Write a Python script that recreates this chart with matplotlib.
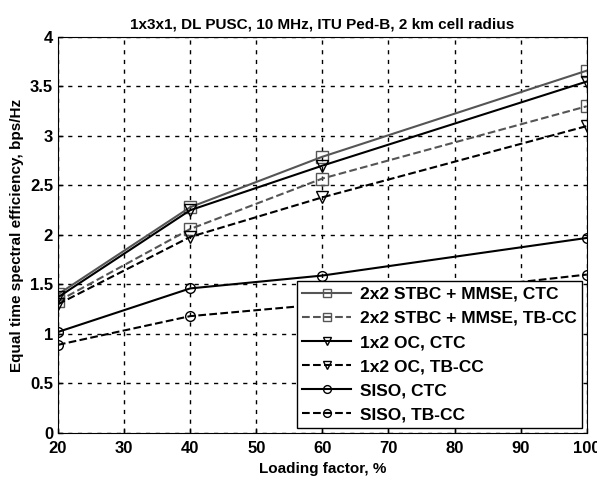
import matplotlib
matplotlib.use('Agg')
import matplotlib.pyplot as plt

plt.rcParams['font.family'] = 'Liberation Sans'
plt.rcParams['font.weight'] = 'bold'

load = [20, 40, 60, 100]
stbc_ctc = [1.40, 2.28, 2.79, 3.66]
stbc_tbcc = [1.33, 2.06, 2.57, 3.30]
oc_ctc = [1.37, 2.25, 2.70, 3.55]
oc_tbcc = [1.30, 1.98, 2.38, 3.10]
siso_ctc = [1.02, 1.46, 1.59, 1.97]
siso_tbcc = [0.89, 1.18, 1.30, 1.60]

fig = plt.figure(figsize=(5.97, 4.8), dpi=100)
ax = fig.add_axes([0.097, 0.098, 0.886, 0.825])

gray = '#555555'
ax.plot(load, stbc_ctc, '-s', color=gray, mfc='none', ms=8, lw=1.5, label='2x2 STBC + MMSE, CTC')
ax.plot(load, stbc_tbcc, '--s', color=gray, mfc='none', ms=8, lw=1.5, label='2x2 STBC + MMSE, TB-CC')
ax.plot(load, oc_ctc, '-v', color='k', mfc='none', ms=8, lw=1.5, label='1x2 OC, CTC')
ax.plot(load, oc_tbcc, '--v', color='k', mfc='none', ms=8, lw=1.5, label='1x2 OC, TB-CC')
ax.plot(load, siso_ctc, '-o', color='k', mfc='none', ms=7, lw=1.5, label='SISO, CTC')
ax.plot(load, siso_tbcc, '--o', color='k', mfc='none', ms=7, lw=1.5, label='SISO, TB-CC')

ax.set_xlim(20, 100)
ax.set_ylim(0, 4)
ax.set_xticks(range(20, 101, 10))
ax.set_yticks([0, 0.5, 1, 1.5, 2, 2.5, 3, 3.5, 4])
ax.set_yticklabels(['0', '0.5', '1', '1.5', '2', '2.5', '3', '3.5', '4'])
ax.grid(True, color='k', linestyle=(0, (3, 4)), lw=1)
ax.tick_params(direction='in', labelsize=12, width=1)
ax.tick_params(axis='x', pad=6)
ax.set_xlabel('Loading factor, %', fontsize=11, fontweight='bold', labelpad=4)
ax.set_ylabel('Equal time spectral efficiency, bps/Hz', fontsize=11, fontweight='bold')
ax.set_title('1x3x1, DL PUSC, 10 MHz, ITU Ped-B, 2 km cell radius', fontsize=11, fontweight='bold')

leg = ax.legend(loc='lower right', fontsize=12.5, fancybox=False, edgecolor='k',
                framealpha=1, handlelength=2.8, borderaxespad=0.3, labelspacing=0.52,
                markerscale=0.8, handletextpad=0.5, borderpad=0.3)
leg.get_frame().set_linewidth(1)

fig.savefig('out.png', dpi=100)
